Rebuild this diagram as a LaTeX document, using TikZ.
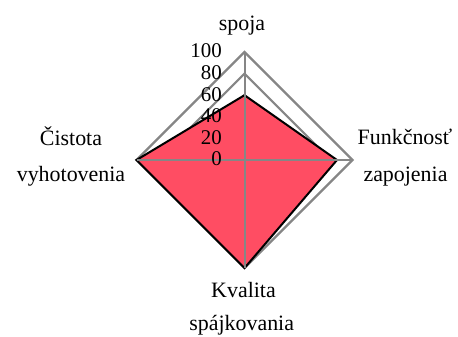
\documentclass[tikz,border=0pt]{standalone}
\usepackage{fontspec}
\setmainfont{Liberation Serif}
\definecolor{radarred}{RGB}{255,77,99}
\definecolor{gridgray}{RGB}{134,134,134}
\begin{document}
\begin{tikzpicture}[x=1bp,y=-1bp,
  ring/.style={draw=gridgray,line width=2.2bp,line join=miter},
  axisline/.style={draw=gridgray,line width=2bp},
  datapoly/.style={fill=radarred,draw=black,line width=2bp,line join=miter},
  lbl/.style={font=\fontsize{22}{26}\selectfont,inner sep=0pt,anchor=base},
  ticklbl/.style={font=\fontsize{21}{25}\selectfont,inner sep=0pt,anchor=east}]
\useasboundingbox (0,0) rectangle (458,336);
\begin{scope}[shift={(244.5,160)}]
  % grid rings
  \foreach \r in {21.6,43.2,64.8,86.4,108}
    \draw[ring] (0,-\r) -- (\r,0) -- (0,\r) -- (-\r,0) -- cycle;
  % data points
  \coordinate (dtop) at (0,-64.8);
  \coordinate (dright) at (92.5,0);
  \coordinate (dbottom) at (0,108);
  \coordinate (dleft) at (-108,0);
  % shadow
  \foreach \o/\op in {4.5/0.08,3.5/0.1,2.5/0.12,1.5/0.14}
    \fill[black,opacity=\op,shift={(\o,\o)}] (dtop) -- (dright) -- (dbottom) -- (dleft) -- cycle;
  % data polygon
  \draw[datapoly] (dtop) -- (dright) -- (dbottom) -- (dleft) -- cycle;
  % axes
  \coordinate (atop) at (0,-108);
  \coordinate (aright) at (108,0);
  \coordinate (abottom) at (0,108);
  \coordinate (aleft) at (-108,0);
  \draw[axisline] (atop) -- (abottom);
  \draw[axisline] (aleft) -- (aright);
  % tick labels
  \foreach \v/\r in {0/0,20/21.6,40/43.2,60/64.8,80/86.4,100/108}
    \node[ticklbl] (t\v) at (-22.5,-\r-1) {\v};
\end{scope}
% category labels
\node[lbl] (spoja) at (242,30) {spoja};
\node[lbl] (cist1) at (71,145) {Čistota};
\node[lbl] (cist2) at (71,181.7) {vyhotovenia};
\node[lbl] (funk1) at (405,144) {Funkčnosť};
\node[lbl] (funk2) at (405.5,181.7) {zapojenia};
\node[lbl] (kval1) at (243.5,297) {Kvalita};
\node[lbl] (kval2) at (241.7,330) {spájkovania};
\end{tikzpicture}
\end{document}
